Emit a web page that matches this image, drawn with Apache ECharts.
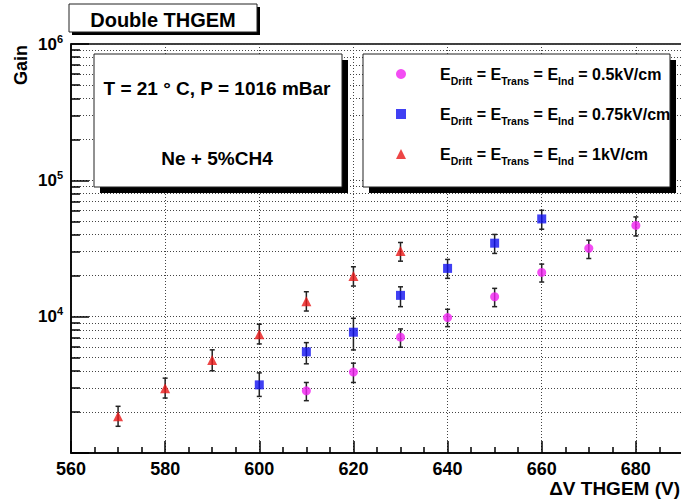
<!DOCTYPE html>
<html><head><meta charset="utf-8">
<script src="https://cdn.jsdelivr.net/npm/echarts@6/dist/echarts.min.js"></script>
<style>html,body{margin:0;padding:0;background:#fff}#c{width:681px;height:501px}</style>
</head><body><div id="c"></div>
<script>
// ---- data ----
const seriesKeys = ['0.5kV/cm', '0.75kV/cm', '1kV/cm'];
const seriesColors = ['#f020f0', '#1010f0', '#e81818'];
const seriesSymbols = ['circle', 'rect', 'triangle'];

const volt05 = [610, 620, 630, 640, 650, 660, 670, 680];
const gain05 = [2860, 3920, 7070, 9840, 14000, 21100, 31700, 46700];
const gain05Lo = [2420, 3290, 5970, 8450, 11840, 17950, 26700, 39100];
const gain05Hi = [3290, 4560, 8130, 11330, 16130, 24300, 36400, 53900];

const volt075 = [600, 610, 620, 630, 640, 650, 660];
const gain075 = [3160, 5520, 7690, 14330, 22600, 34600, 52100];
const gain075Lo = [2600, 4510, 5700, 11840, 19100, 29100, 43800];
const gain075Hi = [3870, 6450, 9730, 16560, 26300, 40100, 60300];

const volt1 = [570, 580, 590, 600, 610, 620, 630];
const gain1 = [1860, 2990, 4820, 7440, 13000, 19900, 30300];
const gain1Lo = [1570, 2530, 4010, 6310, 11000, 16770, 25530];
const gain1Hi = [2200, 3540, 5710, 8800, 15240, 23230, 35000];

const xMin = 560, xMax = 700, xStep = 20;
const yMin = 1000, yMax = 1000000;

const titleText = 'Double THGEM';
const yTitle = 'Gain';
const xTitle = '\u0394V THGEM (V)';
const infoLine1 = 'T = 21 \u00B0 C, P = 1016 mBar';
const infoLine2 = 'Ne + 5%CH4';

// ---- build ----
const FONT = '"Liberation Sans", Arial, Helvetica, sans-serif';
const xs = [volt05, volt075, volt1];
const ys = [gain05, gain075, gain1];
const los = [gain05Lo, gain075Lo, gain1Lo];
const his = [gain05Hi, gain075Hi, gain1Hi];
const names = seriesKeys.map(k => 'EDrift = ETrans = EInd = ' + k);
const richNames = {};
seriesKeys.forEach((k, i) => {
  richNames[names[i]] = '{e0|E}{s|Drift}{e| = E}{s|Trans}{e| = E}{s|Ind}{e| = ' + k + '}';
});

function errSeries(x, lo, hi) {
  return {
    type: 'custom', silent: true, z: 2,
    data: x.map((v, i) => [v, lo[i], hi[i]]),
    encode: { x: 0, y: [1, 2] },
    renderItem: (params, api) => {
      const p1 = api.coord([api.value(0), api.value(1)]);
      const p2 = api.coord([api.value(0), api.value(2)]);
      const c = 2.5;
      const st = { stroke: '#222', lineWidth: 1.5 };
      return { type: 'group', children: [
        { type: 'line', shape: { x1: p1[0], y1: p1[1], x2: p2[0], y2: p2[1] }, style: st },
        { type: 'line', shape: { x1: p1[0] - c, y1: p1[1], x2: p1[0] + c, y2: p1[1] }, style: st },
        { type: 'line', shape: { x1: p2[0] - c, y1: p2[1], x2: p2[0] + c, y2: p2[1] }, style: st }
      ] };
    }
  };
}

const series = [];
for (let i = 0; i < 3; i++) series.push(errSeries(xs[i], los[i], his[i]));
for (let i = 0; i < 3; i++) {
  series.push({
    type: 'scatter', name: names[i], z: 3,
    symbol: seriesSymbols[i], symbolSize: i === 2 ? 10 : 9,
    itemStyle: { color: seriesColors[i] },
    data: xs[i].map((v, j) => [v, ys[i][j]])
  });
}

const dotted = { color: '#444', type: [1, 2], width: 1 };
const black = { color: '#000', width: 1.5 };

function boxWithShadow(x, y, w, h, off, z) {
  return [
    { type: 'rect', z: z, shape: { x: x + off, y: y + off, width: w, height: h }, style: { fill: '#000' } },
    { type: 'rect', z: z + 1, shape: { x: x, y: y, width: w, height: h }, style: { fill: '#fff', stroke: '#222', lineWidth: 1 } }
  ];
}

const option = {
  animation: false,
  backgroundColor: '#fff',
  grid: { left: 71, top: 44, width: 659, height: 409, containLabel: false, outerBoundsMode: 'none',
          show: true, borderColor: '#000', borderWidth: 1.5, backgroundColor: 'transparent' },
  xAxis: {
    type: 'value', min: xMin, max: xMax, interval: xStep,
    axisLine: { show: true, onZero: false, lineStyle: black },
    axisTick: { show: true, inside: true, length: 12, lineStyle: black },
    minorTick: { show: true, splitNumber: 4, length: 6, lineStyle: black },
    splitLine: { show: true, lineStyle: dotted },
    axisLabel: { margin: 7, color: '#000', fontFamily: FONT, fontWeight: 'bold', fontSize: 18, showMaxLabel: false,
                 formatter: v => (v > 690 ? '' : String(v)) }
  },
  yAxis: {
    type: 'log', logBase: 10, min: yMin, max: yMax,
    axisLine: { show: true, lineStyle: black },
    axisTick: { show: true, inside: true, length: 18, lineStyle: black },
    minorTick: { show: true, splitNumber: 9, length: 9, lineStyle: black },
    splitLine: { show: true, lineStyle: dotted },
    minorSplitLine: { show: true, lineStyle: dotted },
    axisLabel: {
      margin: 8,
      formatter: v => {
        if (v < 5000) return '';
        const e = Math.round(Math.log10(v));
        return '{b|10}{sup|' + e + '}';
      },
      rich: {
        b: { fontFamily: FONT, fontWeight: 'bold', fontSize: 17, color: '#000', lineHeight: 22 },
        sup: { fontFamily: FONT, fontWeight: 'bold', fontSize: 11, color: '#000', verticalAlign: 'top', lineHeight: 12 }
      }
    }
  },
  legend: {
    orient: 'vertical', left: 391, top: 61, z: 60,
    itemWidth: 10, itemHeight: 10, itemGap: 20,
    data: names,
    formatter: n => richNames[n],
    textStyle: {
      rich: {
        e0: { fontFamily: FONT, fontWeight: 'bold', fontSize: 16, color: '#000', lineHeight: 24, padding: [0, 0, 0, 29] },
        e: { fontFamily: FONT, fontWeight: 'bold', fontSize: 16, color: '#000', lineHeight: 24 },
        s: { fontFamily: FONT, fontWeight: 'bold', fontSize: 10.5, color: '#000', verticalAlign: 'bottom', lineHeight: 13 }
      }
    }
  },
  graphic: [].concat(
    boxWithShadow(69, 4, 188, 28, 3, 50),
    [{ type: 'text', z: 55, x: 163, y: 19.5, style: { text: titleText, fontFamily: FONT, fontWeight: 'bold', fontSize: 20, fill: '#000', align: 'center', verticalAlign: 'middle' } }],
    boxWithShadow(94, 54, 248, 133, 6, 50),
    [{ type: 'text', z: 55, x: 217, y: 88, style: { text: infoLine1, fontFamily: FONT, fontWeight: 'bold', fontSize: 19, fill: '#000', align: 'center', verticalAlign: 'middle' } },
     { type: 'text', z: 55, x: 217, y: 158, style: { text: infoLine2, fontFamily: FONT, fontWeight: 'bold', fontSize: 19, fill: '#000', align: 'center', verticalAlign: 'middle' } }],
    boxWithShadow(363, 54, 307, 133, 6, 50),
    [{ type: 'text', z: 55, x: 21, y: 65, rotation: Math.PI / 2, style: { text: yTitle, fontFamily: FONT, fontWeight: 'bold', fontSize: 18, fill: '#000', align: 'center', verticalAlign: 'middle' } },
     { type: 'text', z: 55, x: 680, y: 488, style: { text: xTitle, fontFamily: FONT, fontWeight: 'bold', fontSize: 19, fill: '#000', align: 'right', verticalAlign: 'middle' } }]
  ),
  series: series
};

const chart = echarts.init(document.getElementById('c'), null, { renderer: 'svg' });
chart.setOption(option);
</script>
</body></html>
